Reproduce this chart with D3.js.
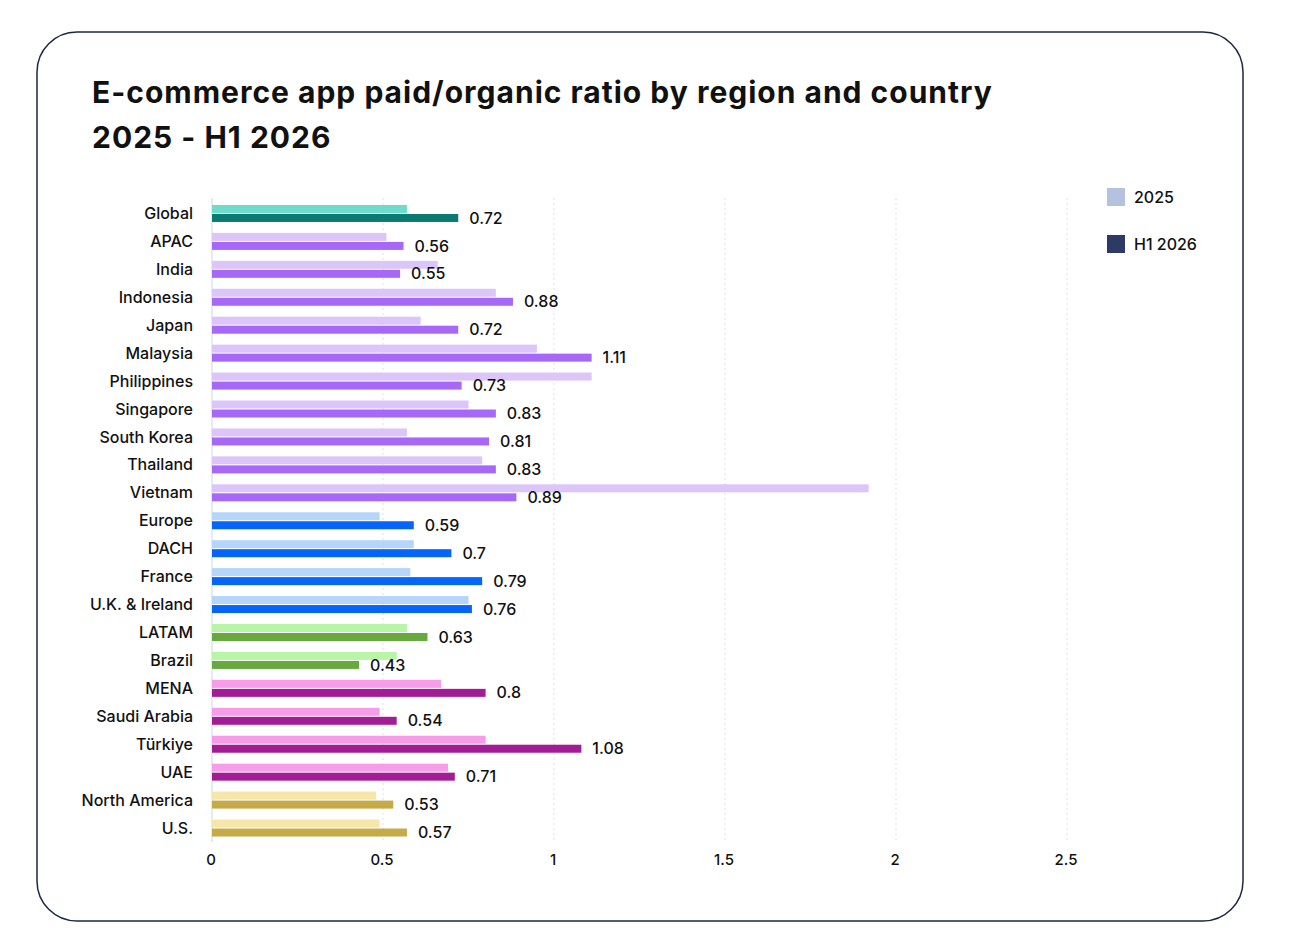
<!DOCTYPE html>
<html>
<head>
<meta charset="utf-8">
<script src="https://cdn.jsdelivr.net/npm/d3@7"></script>
<style>
  body { margin: 0; background: #fff; }
  text { font-family: "Inter", "Noto Sans", sans-serif; fill: #111; }
</style>
</head>
<body>
<script>
// chart data
var categories = ["Global", "APAC", "India", "Indonesia", "Japan", "Malaysia", "Philippines",
  "Singapore", "South Korea", "Thailand", "Vietnam", "Europe", "DACH", "France",
  "U.K. & Ireland", "LATAM", "Brazil", "MENA", "Saudi Arabia", "Türkiye", "UAE",
  "North America", "U.S."];

var regions = ["Global", "APAC", "APAC", "APAC", "APAC", "APAC", "APAC",
  "APAC", "APAC", "APAC", "APAC", "Europe", "Europe", "Europe",
  "Europe", "LATAM", "LATAM", "MENA", "MENA", "MENA", "MENA",
  "North America", "North America"];

var values_2025 = [0.57, 0.51, 0.66, 0.83, 0.61, 0.95, 1.11,
  0.75, 0.57, 0.79, 1.92, 0.49, 0.59, 0.58,
  0.75, 0.57, 0.54, 0.67, 0.49, 0.80, 0.69,
  0.48, 0.49];

var values_h1_2026 = [0.72, 0.56, 0.55, 0.88, 0.72, 1.11, 0.73,
  0.83, 0.81, 0.83, 0.89, 0.59, 0.70, 0.79,
  0.76, 0.63, 0.43, 0.80, 0.54, 1.08, 0.71,
  0.53, 0.57];

var x_ticks = [0, 0.5, 1, 1.5, 2, 2.5];

var series_names = ["2025", "H1 2026"];

// colours per region: [2025, H1 2026]
var region_cols = {
  "Global": ["#6fdccb", "#0b7a73"],
  "APAC": ["#dcc5f8", "#a767f7"],
  "Europe": ["#b5d5f9", "#0565f8"],
  "LATAM": ["#b8f5a6", "#67a83f"],
  "MENA": ["#f79ce8", "#a21c96"],
  "North America": ["#f6e6a9", "#c4ab47"]
};
var legend_cols = ["#b4c2e0", "#2d3a66"];

var width = 1300, height = 952;

var svg = d3.select("body").append("svg")
  .attr("width", width)
  .attr("height", height);

// card
svg.append("rect")
  .attr("x", 37).attr("y", 32)
  .attr("width", 1206).attr("height", 889)
  .attr("rx", 40).attr("ry", 40)
  .attr("fill", "#fff")
  .attr("stroke", "#1c2840")
  .attr("stroke-width", 1.5);

// title
var title = svg.append("text")
  .style("font-size", "30px")
  .style("font-weight", 700)
  .style("letter-spacing", "1px");
title.append("tspan").attr("x", 92).attr("y", 103)
  .text("E-commerce app paid/organic ratio by region and country");
title.append("tspan").attr("x", 92).attr("y", 148)
  .text("2025 - H1 2026");

var xScale = d3.scaleLinear()
  .domain([0, 2.5])
  .range([212, 1067]);

var yScale = d3.scaleBand()
  .domain(categories)
  .range([199.5, 842]);

var bar_h = 8;

// grid lines
svg.append("g").selectAll("line")
  .data(x_ticks.filter(function(d) { return d > 0; }))
  .enter().append("line")
  .attr("x1", function(d) { return xScale(d); })
  .attr("x2", function(d) { return xScale(d); })
  .attr("y1", 198).attr("y2", 842)
  .attr("stroke", "#dcdfe5")
  .attr("stroke-width", 1)
  .attr("stroke-dasharray", "2,3");

// zero line
svg.append("line")
  .attr("x1", xScale(0)).attr("x2", xScale(0))
  .attr("y1", 198).attr("y2", 842)
  .attr("stroke", "#dde5f0")
  .attr("stroke-width", 1.5);

var rows = svg.append("g").selectAll("g")
  .data(categories)
  .enter().append("g");

rows.append("rect")
  .attr("x", xScale(0))
  .attr("y", function(d) { return yScale(d) + yScale.bandwidth() / 2 - bar_h - 0.5; })
  .attr("width", function(d, i) { return xScale(values_2025[i]) - xScale(0); })
  .attr("height", bar_h)
  .attr("fill", function(d, i) { return region_cols[regions[i]][0]; });

rows.append("rect")
  .attr("x", xScale(0))
  .attr("y", function(d) { return yScale(d) + yScale.bandwidth() / 2 + 0.5; })
  .attr("width", function(d, i) { return xScale(values_h1_2026[i]) - xScale(0); })
  .attr("height", bar_h)
  .attr("fill", function(d, i) { return region_cols[regions[i]][1]; });

// category labels
rows.append("text")
  .attr("x", 193)
  .attr("y", function(d) { return yScale(d) + yScale.bandwidth() / 2; })
  .attr("dy", "0.35em")
  .attr("text-anchor", "end")
  .style("font-size", "16px")
  .style("font-weight", 500)
  .text(function(d) { return d; });

// value labels
rows.append("text")
  .attr("x", function(d, i) { return xScale(values_h1_2026[i]) + 11; })
  .attr("y", function(d) { return yScale(d) + yScale.bandwidth() / 2 + 4.5; })
  .attr("dy", "0.35em")
  .style("font-size", "16px")
  .style("font-weight", 500)
  .text(function(d, i) { return values_h1_2026[i]; });

// x axis labels
svg.append("g").selectAll("text")
  .data(x_ticks)
  .enter().append("text")
  .attr("x", function(d) { return xScale(d) - 1; })
  .attr("y", 860)
  .attr("dy", "0.35em")
  .attr("text-anchor", "middle")
  .style("font-size", "15px")
  .style("font-weight", 500)
  .text(function(d) { return d; });

// legend
var legend = svg.append("g").selectAll("g")
  .data(series_names)
  .enter().append("g")
  .attr("transform", function(d, i) { return "translate(1107," + (188 + i * 47) + ")"; });

legend.append("rect")
  .attr("width", 18).attr("height", 18)
  .attr("fill", function(d, i) { return legend_cols[i]; });

legend.append("text")
  .attr("x", 27).attr("y", 9)
  .attr("dy", "0.35em")
  .style("font-size", "16px")
  .style("font-weight", 500)
  .text(function(d) { return d; });
</script>
</body>
</html>
